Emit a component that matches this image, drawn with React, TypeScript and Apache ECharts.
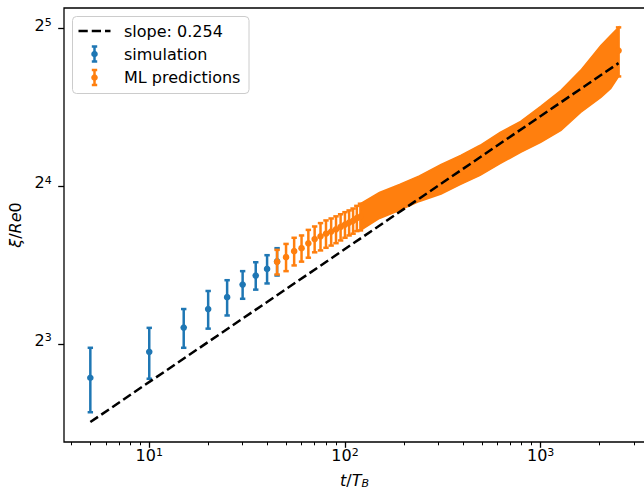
import React, { useEffect, useRef } from 'react';
import * as echarts from 'echarts';

// ---- data ----
const SIM_T = [5, 10, 15, 20, 25, 30, 35, 40, 45];
const SIM_MEAN = [6.89, 7.72, 8.59, 9.32, 9.82, 10.38, 10.8, 11.12, 11.49];
const SIM_ERR = [0.97, 0.86, 0.73, 0.77, 0.76, 0.63, 0.65, 0.69, 0.69];

const ML_T = [45, 50, 55, 60, 65, 70, 75, 80, 85, 90, 95, 100, 105, 110, 115, 120, 150, 190, 240, 310, 390, 490, 620, 790, 1000, 1270, 1600, 2030, 2280, 2500];
const ML_MEAN = [11.47, 11.71, 12.02, 12.18, 12.44, 12.68, 12.83, 12.98, 13.1, 13.23, 13.37, 13.51, 13.63, 13.74, 13.9, 13.99, 14.72, 15.25, 15.85, 16.53, 17.22, 17.96, 18.96, 19.92, 21.06, 22.41, 24.37, 26.67, 27.82, 29.04];
const ML_ERR = [0.62, 0.7, 0.73, 0.7, 0.76, 0.72, 0.77, 0.78, 0.78, 0.78, 0.77, 0.76, 0.75, 0.76, 0.77, 0.82, 0.84, 0.87, 0.89, 1.07, 1.1, 1.19, 1.3, 1.36, 1.67, 1.97, 2.25, 3.04, 3.23, 3.12];
const ML_BAND_START = 120; // from here the error bars merge into a solid band

const FIT_T = [5, 2500];
const FIT_XI = [5.67, 27.48];
const FIT_LABEL = 'slope: 0.254';
const SIM_LABEL = 'simulation';
const ML_LABEL = 'ML predictions';

const X_MAJOR = [10, 100, 1000];
const X_MINOR = [4, 5, 6, 7, 8, 9, 20, 30, 40, 50, 60, 70, 80, 90, 200, 300, 400, 500, 600, 700, 800, 900, 2000, 3000];
const Y_MAJOR = [8, 16, 32];
const X_RANGE = [3.668, 3412];
const Y_RANGE = [5.194, 35.02];

// ---- styling ----
const BLUE = '#1f77b4';
const ORANGE = '#ff7f0e';
const FONT = 'DejaVu Sans';

const lx = (v: number) => Math.log10(v);
const ly = (v: number) => Math.log2(v);

function errorItems(ts: number[], means: number[], errs: number[]) {
  return ts.map((t, i) => [lx(t), ly(means[i] - errs[i]), ly(means[i]), ly(means[i] + errs[i])]);
}

function makeRender(color: string) {
  return (_params: any, api: any) => {
    const x = api.value(0);
    const lo = api.coord([x, api.value(1)]);
    const mid = api.coord([x, api.value(2)]);
    const hi = api.coord([x, api.value(3)]);
    const cap = 2.7;
    const st = { stroke: color, lineWidth: 2.5, fill: 'none' };
    return {
      type: 'group',
      children: [
        { type: 'line', shape: { x1: hi[0], y1: hi[1], x2: lo[0], y2: lo[1] }, style: st },
        { type: 'line', shape: { x1: hi[0] - cap, y1: hi[1], x2: hi[0] + cap, y2: hi[1] }, style: st },
        { type: 'line', shape: { x1: lo[0] - cap, y1: lo[1], x2: lo[0] + cap, y2: lo[1] }, style: st },
        { type: 'circle', shape: { cx: mid[0], cy: mid[1], r: 3.3 }, style: { fill: color } },
      ],
    };
  };
}

const supRich = {
  b: { fontFamily: FONT, fontSize: 16, color: '#000', lineHeight: 16, verticalAlign: 'bottom' },
  s: { fontFamily: FONT, fontSize: 11, color: '#000', lineHeight: 16, verticalAlign: 'top', padding: [0, 0, 7, 0] },
};

function legendErrIcon(cx: number, cy: number, color: string) {
  const st = { stroke: color, lineWidth: 2.5 };
  const h = 7.5;
  const cap = 2.7;
  return [
    { type: 'line', z: 21, shape: { x1: cx, y1: cy - h, x2: cx, y2: cy + h }, style: st },
    { type: 'line', z: 21, shape: { x1: cx - cap, y1: cy - h, x2: cx + cap, y2: cy - h }, style: st },
    { type: 'line', z: 21, shape: { x1: cx - cap, y1: cy + h, x2: cx + cap, y2: cy + h }, style: st },
    { type: 'circle', z: 21, shape: { cx, cy, r: 3.3 }, style: { fill: color } },
  ];
}

function buildOption() {
  const mlItems = errorItems(ML_T, ML_MEAN, ML_ERR);
  const bandData = mlItems
    .filter((_d, i) => ML_T[i] >= ML_BAND_START)
    .map((d) => [d[0], d[1], d[3]]);
  // individual bars are drawn where they are still distinguishable, plus the final point
  const mlBars = mlItems.filter((_d, i) => ML_T[i] <= ML_BAND_START || i === ML_T.length - 1);
  const textStyle = { fontFamily: FONT, fontSize: 16, fill: '#000', verticalAlign: 'middle' };
  return {
    animation: false,
    backgroundColor: '#ffffff',
    grid: {
      left: 64,
      top: 8,
      width: 581,
      height: 434,
      show: true,
      borderColor: '#000',
      borderWidth: 1.3,
      backgroundColor: 'transparent',
      outerBoundsMode: 'none',
    },
    xAxis: [
      {
        type: 'value',
        min: lx(X_RANGE[0]),
        max: lx(X_RANGE[1]),
        axisLine: { show: false },
        splitLine: { show: false },
        axisTick: { show: true, customValues: X_MAJOR.map(lx), length: 5.8, lineStyle: { color: '#000', width: 1.3 } },
        axisLabel: {
          customValues: X_MAJOR.map(lx),
          margin: 5,
          formatter: (v: number) => `{b|10}{s|${Math.round(v)}}`,
          rich: supRich,
        },
        name: '{i|t}/{i|T}{sub|B}',
        nameLocation: 'middle',
        nameGap: 30,
        nameTextStyle: {
          fontFamily: FONT,
          fontSize: 16,
          color: '#000',
          rich: {
            i: { fontFamily: FONT, fontSize: 16, fontStyle: 'italic', color: '#000', lineHeight: 16 },
            sub: { fontFamily: FONT, fontSize: 11, fontStyle: 'italic', color: '#000', lineHeight: 11, verticalAlign: 'top', padding: [6, 0, 0, 0] },
          },
        },
      },
      {
        type: 'value',
        position: 'bottom',
        min: lx(X_RANGE[0]),
        max: lx(X_RANGE[1]),
        axisLine: { show: false },
        splitLine: { show: false },
        axisTick: { show: true, customValues: X_MINOR.map(lx), length: 3.3, lineStyle: { color: '#000', width: 1 } },
        axisLabel: { show: false },
      },
    ],
    yAxis: {
      type: 'value',
      min: ly(Y_RANGE[0]),
      max: ly(Y_RANGE[1]),
      axisLine: { show: false },
      splitLine: { show: false },
      axisTick: { show: true, customValues: Y_MAJOR.map(ly), length: 5.8, lineStyle: { color: '#000', width: 1.3 } },
      axisLabel: {
        customValues: Y_MAJOR.map(ly),
        margin: 12.3,
        padding: [0, 0, 7, 0],
        formatter: (v: number) => `{b|2}{s|${Math.round(v)}}`,
        rich: supRich,
      },
      name: '{i|ξ}/{i|Re}0',
      nameLocation: 'middle',
      nameRotate: 90,
      nameGap: 39,
      nameTextStyle: {
        fontFamily: FONT,
        fontSize: 16,
        color: '#000',
        rich: { i: { fontFamily: FONT, fontSize: 16, fontStyle: 'italic', color: '#000' } },
      },
    },
    series: [
      {
        name: SIM_LABEL,
        type: 'custom',
        xAxisIndex: 0,
        z: 2,
        renderItem: makeRender(BLUE),
        data: errorItems(SIM_T, SIM_MEAN, SIM_ERR),
      },
      {
        name: ML_LABEL + ' band',
        type: 'custom',
        xAxisIndex: 0,
        z: 3,
        data: bandData,
        renderItem: (params: any, api: any) => {
          if (params.dataIndex !== 0) return null;
          const upper = bandData.map((d) => api.coord([d[0], d[2]]));
          const lower = bandData.map((d) => api.coord([d[0], d[1]])).reverse();
          return {
            type: 'polygon',
            shape: { points: upper.concat(lower) },
            style: { fill: ORANGE, stroke: ORANGE, lineWidth: 1.5 },
          };
        },
      },
      {
        name: ML_LABEL,
        type: 'custom',
        xAxisIndex: 0,
        z: 4,
        renderItem: makeRender(ORANGE),
        data: mlBars,
      },
      {
        name: FIT_LABEL,
        type: 'line',
        xAxisIndex: 0,
        symbol: 'none',
        z: 5,
        lineStyle: { color: '#000', width: 2.5, type: [9.25, 4] },
        data: FIT_T.map((t, i) => [lx(t), ly(FIT_XI[i])]),
      },
    ],
    graphic: [
      {
        type: 'rect',
        z: 20,
        shape: { x: 72.5, y: 16.5, width: 176.5, height: 77, r: 4 },
        style: { fill: 'rgba(255,255,255,0.8)', stroke: '#cccccc', lineWidth: 1 },
      },
      {
        type: 'line',
        z: 21,
        shape: { x1: 78.5, y1: 31, x2: 110.5, y2: 31 },
        style: { stroke: '#000', lineWidth: 2.5, lineDash: [9.25, 4] },
      },
      { type: 'text', z: 21, x: 124, y: 31, style: { ...textStyle, text: FIT_LABEL } },
      ...legendErrIcon(94.5, 54, BLUE),
      { type: 'text', z: 21, x: 124, y: 54, style: { ...textStyle, text: SIM_LABEL } },
      ...legendErrIcon(94.5, 77.5, ORANGE),
      { type: 'text', z: 21, x: 124, y: 77.5, style: { ...textStyle, text: ML_LABEL } },
    ],
  };
}

export default function App() {
  const ref = useRef<HTMLDivElement>(null);
  useEffect(() => {
    if (!ref.current) return;
    const chart = echarts.init(ref.current, undefined, { renderer: 'svg' });
    chart.setOption(buildOption() as any);
    return () => chart.dispose();
  }, []);
  return <div ref={ref} style={{ position: 'absolute', left: 0, top: 0, width: 644, height: 490 }} />;
}
